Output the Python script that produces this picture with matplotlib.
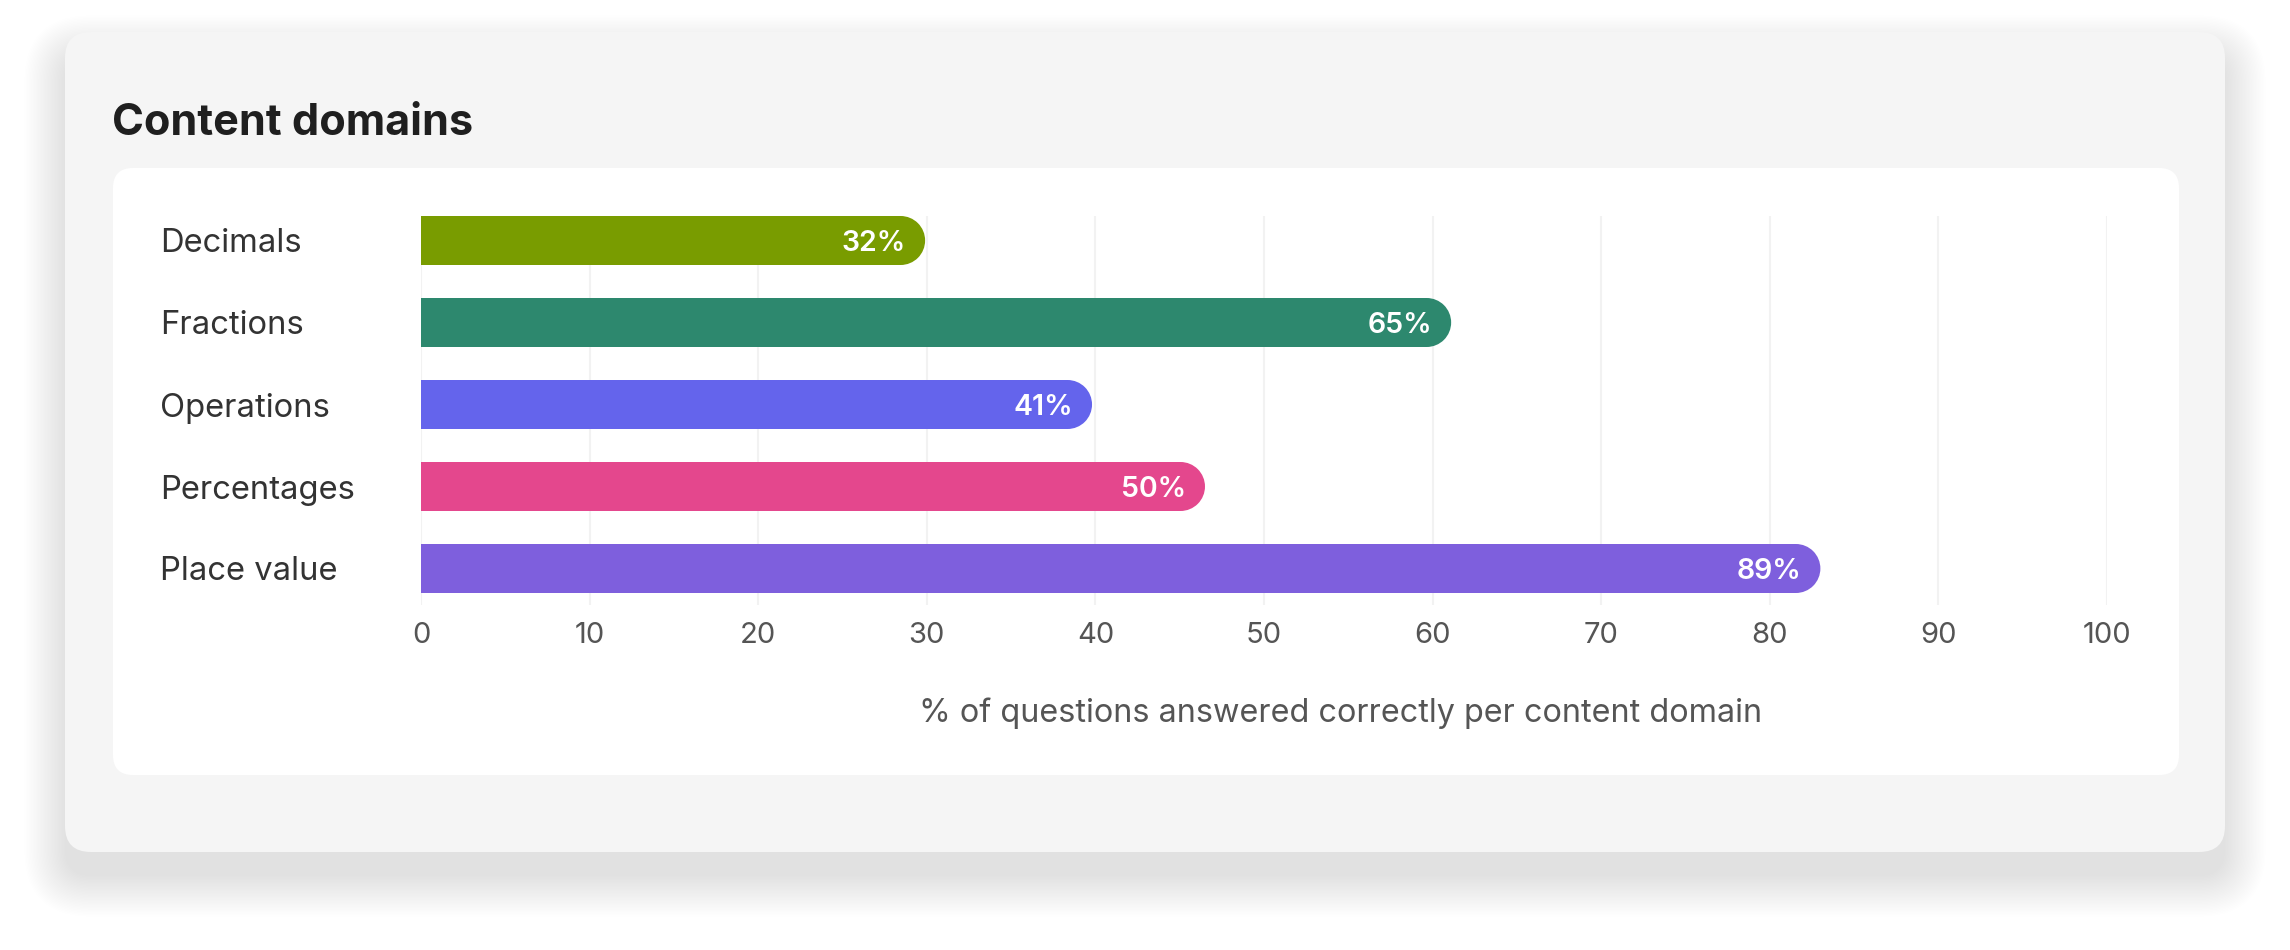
import matplotlib.pyplot as plt
from matplotlib.patches import FancyBboxPatch, Ellipse
import numpy as np

plt.rcParams['font.family'] = ['Inter', 'DejaVu Sans']

# ====== data ======
categories = ["Decimals", "Fractions", "Operations", "Percentages", "Place value"]
bar_values = [29.9, 61.1, 39.8, 46.5, 83.0]     # bar length as drawn on the axis
bar_labels = ["32%", "65%", "41%", "50%", "89%"]  # text shown in the bar
bar_colors = ["#799C00", "#2D886E", "#6464EC", "#E4478D", "#7E5FDD"]
x_ticks = list(range(0, 101, 10))
x_label = "% of questions answered correctly per content domain"
title = "Content domains"

W, H = 2290, 950
fig = plt.figure(figsize=(W / 100, H / 100), dpi=100)
fig.patch.set_facecolor("white")

# ====== background card (pixel coordinates) ======
bg = fig.add_axes([0, 0, 1, 1])
bg.set_xlim(0, W)
bg.set_ylim(H, 0)
bg.axis("off")

cx0, cy0, cx1, cy1 = 65, 32, 2225, 852
# soft drop shadow, mostly below the card
for k in range(30):
    e = k * 1.4
    bg.add_patch(FancyBboxPatch((cx0 - e, cy0 + 24 - e), (cx1 - cx0) + 2 * e, (cy1 - cy0) + 2 * e,
                                boxstyle=f"round,pad=0,rounding_size={26 + e}",
                                fc="black", ec="none", alpha=0.0048, zorder=1))
bg.add_patch(FancyBboxPatch((cx0, cy0), cx1 - cx0, cy1 - cy0,
                            boxstyle="round,pad=0,rounding_size=26",
                            fc="#F5F5F5", ec="none", zorder=2))
# inner white panel
px0, py0, px1, py1 = 113, 168, 2179, 775
bg.add_patch(FancyBboxPatch((px0, py0), px1 - px0, py1 - py0,
                            boxstyle="round,pad=0,rounding_size=20",
                            fc="white", ec="none", zorder=3))

bg.text(112, 135, title, fontsize=31.1, fontweight="bold", color="#1F1F1F",
        ha="left", va="baseline", zorder=4)
bg.text(1341, 722, x_label, fontsize=23.3, color="#555555",
        ha="center", va="baseline", zorder=4)

# ====== chart axes ======
ax_l, ax_r, ax_t, ax_b = 421, 2107, 216, 605
ax = fig.add_axes([ax_l / W, 1 - ax_b / H, (ax_r - ax_l) / W, (ax_b - ax_t) / H])
ax.set_facecolor("none")
step_px = 82
bar_h = 49 / step_px
y_bottom = (ax_b - (ax_t + bar_h * step_px / 2)) / step_px
ax.set_xlim(0, 100)
ax.set_ylim(y_bottom, -bar_h / 2)

px_per_x = (ax_r - ax_l) / 100
r_x = (bar_h / 2) * step_px / px_per_x   # cap radius in x data units

y = np.arange(len(categories))
for yi, v, c in zip(y, bar_values, bar_colors):
    ax.barh(yi, v - r_x, height=bar_h, color=c, edgecolor="none", zorder=3)
    ax.add_patch(Ellipse((v - r_x, yi), 2 * r_x, bar_h, fc=c, ec="none", zorder=3))

for yi, v, lab in zip(y, bar_values, bar_labels):
    ax.annotate(lab, xy=(v, yi), xytext=(-19 * 0.72, -10.5 * 0.72), textcoords="offset points",
                ha="right", va="baseline", color="white", fontsize=20.5,
                fontweight="semibold", zorder=4)

ax.set_xticks(x_ticks)
ax.set_xticklabels([str(t) for t in x_ticks], fontsize=21, color="#555555")
ax.set_yticks(y)
ax.set_yticklabels(categories, fontsize=23.6, color="#333333", ha="left")
ax.tick_params(axis="x", length=0, pad=12)
ax.tick_params(axis="y", length=0, pad=(ax_l - 160) * 0.72)
ax.grid(axis="x", color="#F2F2F2", lw=1.5, zorder=0)
ax.grid(axis="y", visible=False)
ax.set_axisbelow(True)
for s in ax.spines.values():
    s.set_visible(False)

fig.savefig("out.png", dpi=100, facecolor="white")
